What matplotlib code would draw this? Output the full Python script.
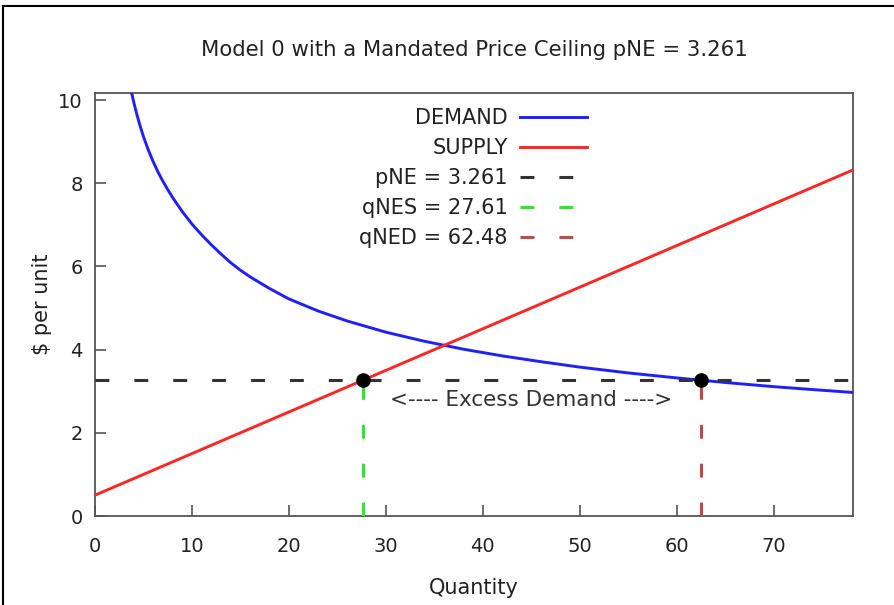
import matplotlib
matplotlib.use('Agg')
import matplotlib.pyplot as plt
from matplotlib.lines import Line2D

# ---- data ----
q_demand = [3.7, 4.0, 4.3, 4.6, 5.0, 5.5, 6.0, 6.5, 7.0, 7.5, 8.0, 9.0, 10, 11, 12, 13, 14,
            15, 16, 18, 20, 23, 26, 30, 34, 38, 42, 46, 50, 55, 60, 65, 70, 74, 78.2]
p_demand = [10.25, 9.95, 9.67, 9.42, 9.12, 8.80, 8.52, 8.27, 8.05, 7.85, 7.66, 7.32, 7.02,
            6.76, 6.52, 6.30, 6.09, 5.91, 5.75, 5.47, 5.22, 4.93, 4.69, 4.42, 4.20, 4.01,
            3.85, 3.71, 3.58, 3.44, 3.32, 3.21, 3.11, 3.04, 2.97]
q_supply = [0.0, 78.2]
p_supply = [0.5, 8.32]
pNE = 3.261
qNES = 27.61
qNED = 62.48
x_range = [0, 78.2]
y_range = [0, 10.17]
x_ticks = [0, 10, 20, 30, 40, 50, 60, 70]
y_ticks = [0, 2, 4, 6, 8, 10]
legend_labels = ['DEMAND', 'SUPPLY', 'pNE = 3.261', 'qNES = 27.61', 'qNED = 62.48']
title = 'Model 0 with a Mandated Price Ceiling pNE = 3.261'
annotation = '<---- Excess Demand ---->'
annotation_pos = (45.0, 2.79)

W, H = 894, 605
fig = plt.figure(figsize=(W / 100, H / 100), dpi=100)
fig.patch.set_facecolor('white')
ax = fig.add_axes([95 / W, 1 - 516 / H, (853 - 95) / W, (516 - 93) / H])

txt = '#222222'
lw_dash = 2.2
dash = (0, (10 / lw_dash, 18 / lw_dash))

ax.plot(q_demand, p_demand, color='#1f1fff', lw=2.1, label=legend_labels[0], zorder=3,
        solid_joinstyle='round')
ax.plot(q_supply, p_supply, color='#ff2626', lw=2.1, label=legend_labels[1], zorder=3)
ax.plot(x_range, [pNE, pNE], color='#333333', lw=lw_dash, ls=dash, label=legend_labels[2], zorder=4)
ax.plot([qNES, qNES], [0, pNE], color='#2ee82e', lw=lw_dash, ls=dash, label=legend_labels[3], zorder=4)
ax.plot([qNED, qNED], [0, pNE], color='#c0484a', lw=lw_dash, ls=dash, label=legend_labels[4], zorder=4)
ax.plot([qNES, qNED], [pNE, pNE], 'o', color='black', ms=9.5, zorder=6, clip_on=False)

ax.text(annotation_pos[0], annotation_pos[1], annotation, ha='center', va='center',
        fontsize=15.5, color='#333333')

ax.set_xlim(x_range)
ax.set_ylim(y_range)
ax.set_xticks(x_ticks)
ax.set_yticks(y_ticks)
for s in ax.spines.values():
    s.set_color('#555555')
    s.set_linewidth(1.3)
ax.tick_params(direction='in', length=8, width=1.2, color='#555555', top=False, right=False,
               labelsize=14, labelcolor=txt)
ax.tick_params(axis='x', pad=15)
ax.tick_params(axis='y', pad=9)

ax.set_title(title, fontsize=15.3, color=txt, pad=27)
ax.set_xlabel('Quantity', fontsize=15, color=txt, labelpad=16)
ax.set_ylabel('$ per unit', fontsize=15, color=txt, labelpad=4)

leg = ax.legend(loc='upper right', bbox_to_anchor=((587 - 95) / 758, (516 - 108) / 423),
                frameon=False, markerfirst=False, fontsize=15, handlelength=3.2,
                handletextpad=0.6, labelspacing=0.48, borderpad=0, borderaxespad=0)
for t in leg.get_texts():
    t.set_color(txt)

# outer frame (top and left edges, as in the reference)
fig.add_artist(Line2D([3 / W, 1.0], [1 - 6 / H, 1 - 6 / H], transform=fig.transFigure,
                      color='black', lw=1.5))
fig.add_artist(Line2D([3 / W, 3 / W], [0, 1 - 6 / H], transform=fig.transFigure,
                      color='black', lw=1.5))

fig.savefig('out.png', dpi=100)
